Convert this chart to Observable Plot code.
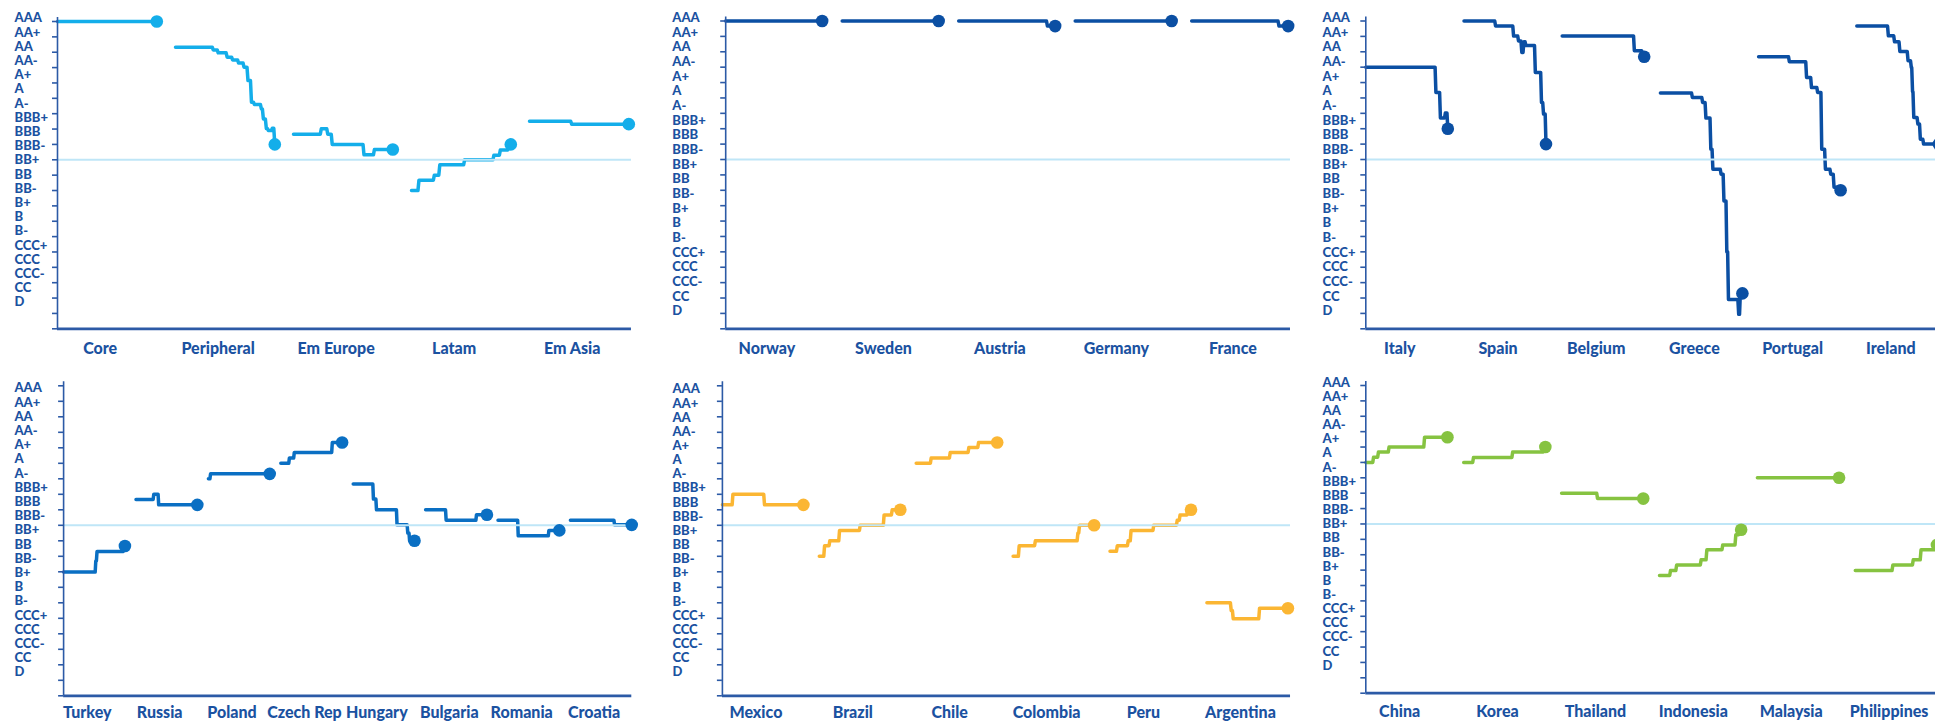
<!DOCTYPE html>
<html>
<head>
<meta charset="utf-8">
<script src="https://cdn.jsdelivr.net/npm/d3@7"></script>
<script src="https://cdn.jsdelivr.net/npm/@observablehq/plot@0.6"></script>
<style>
  html, body { margin: 0; padding: 0; background: #ffffff; overflow: hidden; }
  #chart { position: relative; width: 1935px; height: 722px; overflow: hidden; background: #fff; }
  #chart .panel { position: absolute; height: 361px; }
  #chart svg { overflow: visible; max-width: none !important; }
</style>
</head>
<body>
<div id="chart"></div>
<script>
// ---------- DATA ----------
// Rating scale, top (AAA = 0) to bottom (D = 20)
const ratings = ["AAA","AA+","AA","AA-","A+","A","A-","BBB+","BBB","BBB-","BB+","BB","BB-","B+","B","B-","CCC+","CCC","CCC-","CC","D"];
const investmentGradeFloor = 9; // BBB-

// Each series: change points [period %, average rating index]
const regionCats = ["Core","Peripheral","Em Europe","Latam","Em Asia"];
const regionSeries = [
  [[0,0]],
  [[0,1.67],[37,1.85],[42,2.04],[51,2.32],[56.5,2.5],[62.5,2.7],[68,2.97],[72,3.84],[75.5,5.25],[78.5,5.4],[85.5,5.69],[87.5,6.34],[90.5,6.97],[92.5,7.1],[96.5,6.95],[99,8.0]],
  [[0,7.33],[27,6.98],[33.5,7.33],[38,8.0],[70,8.68],[80.5,8.33]],
  [[0,11.0],[6.5,10.33],[22,10.0],[27.5,9.33],[52.5,9.0],[82,8.7],[88.5,8.36],[97,8.0]],
  [[0,6.49],[41.5,6.68]]
];

const coreCats = ["Norway","Sweden","Austria","Germany","France"];
const coreSeries = [
  [[0,0]],
  [[0,0]],
  [[0,0],[91,0.33]],
  [[0,0]],
  [[0,0],[89.5,0.33]]
];

const periphCats = ["Italy","Spain","Belgium","Greece","Portugal","Ireland"];
const periphSeries = [
  [[0,3.0],[84.5,4.64],[90,6.3],[96,5.98],[99,7.0]],
  [[0,0],[37.5,0.33],[59.5,0.98],[65.5,1.3],[69.5,2.04],[72,1.35],[74.5,1.6],[86,3.34],[93.5,5.3],[96,6.05],[99,8.0]],
  [[0,0.97],[87,1.93],[97,2.32]],
  [[0,4.68],[38,4.97],[50.5,5.3],[54.5,6.31],[60.5,8.33],[63,9.63],[73,9.95],[76.5,11.7],[80,15.0],[82,18.1],[94.5,19.06],[96.5,17.7]],
  [[0,2.32],[36.5,2.65],[57.5,3.67],[63.5,4.32],[71,4.64],[76,8.33],[80.5,9.63],[87,9.95],[91,10.8],[98,11.0]],
  [[0,0.33],[37.5,0.96],[45,1.35],[51.5,1.98],[61.5,2.58],[65.5,3.02],[67,4.6],[68.5,6.27],[73.5,6.7],[76.5,7.68],[80.5,8.0]]
];

const emEuropeCats = ["Turkey","Russia","Poland","Czech Rep","Hungary","Bulgaria","Romania","Croatia"];
const emEuropeSeries = [
  [[0,12.02],[51.5,11.3],[53.5,10.69],[97,10.34]],
  [[0,7.33],[28,6.99],[36,7.68]],
  [[0,6.0],[2.5,5.68]],
  [[0,5.0],[13,4.66],[21,4.3],[83,3.66]],
  [[0,6.34],[32,7.31],[37,8.0],[70.5,8.97],[88,9.5],[91,10.0]],
  [[0,8.0],[32.5,8.67],[82,8.32]],
  [[0,8.67],[32,9.68],[82,9.33]],
  [[0,8.67],[71,8.97]]
];

const latamCats = ["Mexico","Brazil","Chile","Colombia","Peru","Argentina"];
const latamSeries = [
  [[0,7.68],[12,6.99],[51,7.68]],
  [[0,11.0],[5.5,10.32],[12,10.0],[24,9.33],[49.5,9.0],[79,8.33],[89,8.0]],
  [[0,5.0],[17.5,4.66],[41,4.3],[64,3.98],[76,3.66]],
  [[0,11.0],[6.5,10.32],[26.5,10.0],[79,9.5],[81,9.0]],
  [[0,10.68],[8,10.32],[21.5,10.0],[25,9.33],[53,9.0],[82,8.67],[85.5,8.33],[95,8.0]],
  [[0,14.0],[29,14.5],[31.5,15.03],[64,14.35]]
];

const emAsiaCats = ["China","Korea","Thailand","Indonesia","Malaysia","Philippines"];
const emAsiaSeries = [
  [[0,5.0],[8.5,4.66],[14.5,4.33],[27.5,4.0],[71,3.36]],
  [[0,5.0],[11,4.68],[59,4.33],[97,4.0]],
  [[0,7.0],[43,7.35]],
  [[0,12.35],[12.5,12.03],[20,11.66],[50,11.33],[57,10.68],[76.5,10.36],[92.5,9.7],[97,9.38]],
  [[0,6.0]],
  [[0,12.03],[45,11.66],[70,11.33],[79.5,10.68],[97,10.36]]
];

// ---------- STYLE / LAYOUT ----------
const axisColor = "#2c5aa6";
const textColor = "#1b52a1";
const thresholdColor = "#bfe6f7";
const fontFamily = "Lato, 'Open Sans', sans-serif";

const panels = [
  {cats: regionCats, series: regionSeries, color: "#14aeea", left: 0, top: 0, width: 645,
   axisX: 57, slot: 118, seg: 0.8415, dmax: 4.864, yTop: 21, yAxis: 328.3, lStart: -0.215, lStep: 0.9245, lDx: -43, catDy: 20},
  {cats: coreCats, series: coreSeries, color: "#0b4fa3", left: 660, top: 0, width: 645,
   axisX: 65.2, slot: 116.5, seg: 0.828, dmax: 4.848, yTop: 20.5, yAxis: 328.3, lStart: -0.2, lStep: 0.953, lDx: -53.4, catDy: 20},
  {cats: periphCats, series: periphSeries, color: "#0b4fa3", left: 1290, top: 0, width: 670,
   axisX: 75.3, slot: 98.2, seg: 0.835, dmax: 5.85, yTop: 20.5, yAxis: 328.3, lStart: -0.2, lStep: 0.953, lDx: -43.2, catDy: 20},
  {cats: emEuropeCats, series: emEuropeSeries, color: "#0a6fc3", left: 0, top: 361, width: 645,
   axisX: 63.1, slot: 72.4, seg: 0.847, dmax: 7.848, yTop: 24.3, yAxis: 334.3, lStart: 0.155, lStep: 0.916, lDx: -49.2, catDy: 17},
  {cats: latamCats, series: latamSeries, color: "#fbb633", left: 660, top: 361, width: 645,
   axisX: 61.9, slot: 96.9, seg: 0.836, dmax: 5.863, yTop: 24.3, yAxis: 334.3, lStart: 0.22, lStep: 0.913, lDx: -50, catDy: 17},
  {cats: emAsiaCats, series: emAsiaSeries, color: "#86c341", left: 1290, top: 361, width: 670,
   axisX: 75.3, slot: 97.9, seg: 0.834, dmax: 5.85, yTop: 24, yAxis: 331.7, lStart: -0.195, lStep: 0.92, lDx: -43.3, catDy: 19}
];

const RISER = 1; // width of each rating change, in period %
function stepPoints(changes) {
  const pts = [[changes[0][0], changes[0][1]]];
  for (let k = 1; k < changes.length; k++) {
    const [t, v] = changes[k];
    pts.push([t, changes[k - 1][1]]);
    pts.push([Math.min(t + RISER, 100), v]);
  }
  if (pts[pts.length - 1][0] < 100) pts.push([100, changes[changes.length - 1][1]]);
  return pts;
}

const root = document.getElementById("chart");
const TOP_PAD = 0.26; // axis line extends a little above AAA

panels.forEach(p => {
  const rows = [];
  const ends = [];
  p.series.forEach((s, i) => {
    stepPoints(s).forEach(([t, v]) => rows.push({cat: p.cats[i], x: i + p.seg * t / 100, y: v}));
    ends.push({cat: p.cats[i], x: i + p.seg, y: s[s.length - 1][1]});
  });
  const height = 361;
  const step = (p.yAxis - p.yTop) / 20;
  const marginTop = p.yTop - TOP_PAD * step;
  const marginBottom = height - p.yAxis;
  const marginLeft = p.axisX;
  const marginRight = p.width - marginLeft - p.slot * p.dmax;

  const chart = Plot.plot({
    width: p.width,
    height,
    marginTop, marginBottom, marginLeft, marginRight,
    style: {fontFamily, background: "transparent", overflow: "visible", maxWidth: "none"},
    x: {domain: [0, p.dmax], axis: null},
    y: {domain: [-TOP_PAD, 20], reverse: true, axis: null},
    marks: [
      Plot.line(rows, {x: "x", y: "y", z: "cat", stroke: p.color, strokeWidth: 3.5, strokeLinejoin: "round"}),
      Plot.ruleY([investmentGradeFloor], {stroke: thresholdColor, strokeWidth: 2}),
      Plot.dot(ends, {x: "x", y: "y", r: 6.3, fill: p.color, stroke: "none"}),
      Plot.ruleX([0], {stroke: axisColor, strokeWidth: 1.6}),
      Plot.axisY({ticks: d3.range(21), tickSize: 5, tickFormat: () => "", label: null, stroke: axisColor, strokeWidth: 1.6}),
      Plot.ruleY([20], {stroke: axisColor, strokeWidth: 2.8}),
      Plot.text(ratings, {x: () => 0, y: (d, i) => p.lStart + i * p.lStep, text: d => d, dx: p.lDx,
        textAnchor: "start", lineAnchor: "middle", fill: textColor, fontSize: 13, fontWeight: 900, fontFamily}),
      Plot.text(p.cats, {x: (d, i) => i + p.seg / 2, y: () => 20, text: d => d, dy: p.catDy, dx: -7,
        textAnchor: "middle", lineAnchor: "middle", fill: textColor, fontSize: 16, fontWeight: 900, fontFamily})
    ]
  });
  const wrap = document.createElement("div");
  wrap.className = "panel";
  wrap.style.left = p.left + "px";
  wrap.style.top = p.top + "px";
  wrap.style.width = p.width + "px";
  wrap.appendChild(chart);
  root.appendChild(wrap);
});
</script>
</body>
</html>
